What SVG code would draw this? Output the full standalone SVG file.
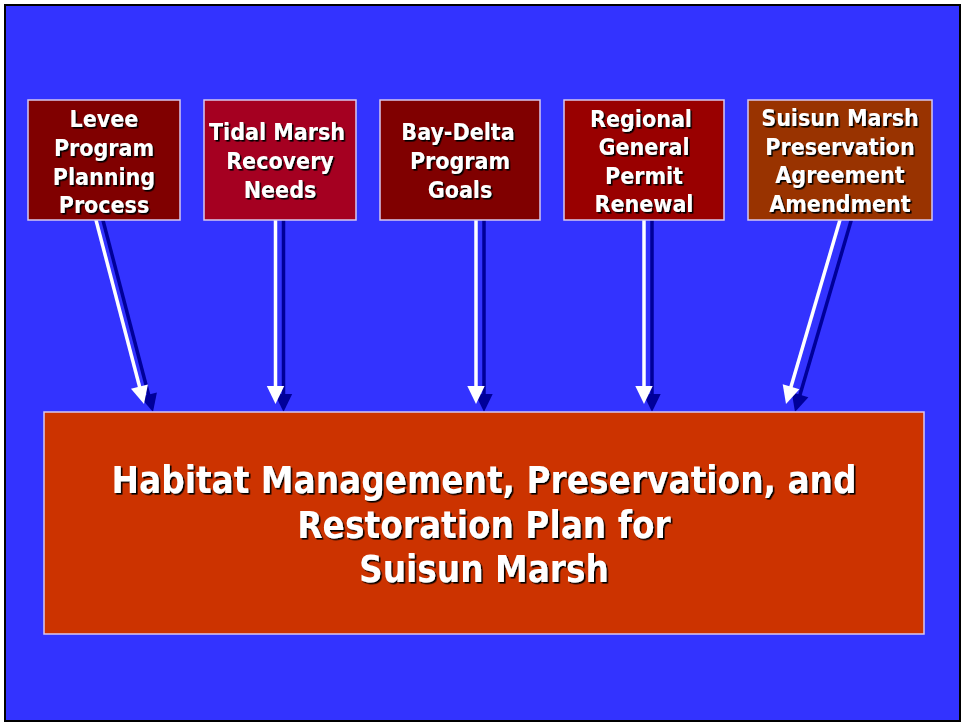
<svg xmlns="http://www.w3.org/2000/svg" xmlns:xlink="http://www.w3.org/1999/xlink" width="963" height="722" viewBox="0 0 963 722">
<style>
.box{stroke:#d8c8f0;stroke-width:1.5}
.t{font-family:"DejaVu Sans Condensed","DejaVu Sans",Verdana,sans-serif;font-weight:bold;fill:#ffffff;text-anchor:middle;filter:url(#ds)}
.s{font-size:23px}
.m{font-size:36.5px}
.wh{fill:#ffffff;stroke:#ffffff}
.sh{fill:#000099;stroke:#000099}
</style>
<defs>
<filter id="ds" x="-5%" y="-10%" width="110%" height="130%">
<feDropShadow dx="1.6" dy="1.6" stdDeviation="0" flood-color="#000000" flood-opacity="1"/>
</filter>
<g id="a1"><line x1="93.9" y1="212" x2="140.3" y2="389.5" stroke-width="3.5"/><polygon points="144,404 147.9,384.4 131,388.8" stroke="none"/></g>
<g id="a2"><line x1="275.5" y1="212" x2="275.5" y2="390" stroke-width="3.5"/><polygon points="275.5,404 284.2,386 266.8,386" stroke="none"/></g>
<g id="a3"><line x1="476" y1="212" x2="476" y2="390" stroke-width="3.5"/><polygon points="476,404 484.7,386 467.3,386" stroke="none"/></g>
<g id="a4"><line x1="644" y1="212" x2="644" y2="390" stroke-width="3.5"/><polygon points="644,404 652.7,386 635.3,386" stroke="none"/></g>
<g id="a5"><line x1="842.3" y1="212" x2="790.2" y2="389.5" stroke-width="3.5"/><polygon points="786,404 799.4,389.2 782.7,384.3" stroke="none"/></g>
</defs>
<rect x="0" y="0" width="963" height="722" fill="#ffffff"/>
<rect x="5" y="5" width="955" height="716" fill="#3333ff" stroke="#000000" stroke-width="2"/>
<g id="connectors">
<use xlink:href="#a1" class="sh" transform="translate(9,8)"/>
<use xlink:href="#a2" class="sh" transform="translate(8,8)"/>
<use xlink:href="#a3" class="sh" transform="translate(8,8)"/>
<use xlink:href="#a4" class="sh" transform="translate(8,8)"/>
<use xlink:href="#a5" class="sh" transform="translate(9,8)"/>
<use xlink:href="#a1" class="wh"/>
<use xlink:href="#a2" class="wh"/>
<use xlink:href="#a3" class="wh"/>
<use xlink:href="#a4" class="wh"/>
<use xlink:href="#a5" class="wh"/>
</g>
<g id="levee">
<rect class="box" x="28" y="100" width="152" height="120" fill="#800000"/>
<text class="t s" x="104" y="127">Levee</text>
<text class="t s" x="104" y="156">Program</text>
<text class="t s" x="104" y="184.5">Planning</text>
<text class="t s" x="104" y="213">Process</text>
</g>
<g id="tidal">
<rect class="box" x="204" y="100" width="152" height="120" fill="#a50021"/>
<text class="t s" x="277" y="140">Tidal Marsh</text>
<text class="t s" x="280" y="169">Recovery</text>
<text class="t s" x="280" y="197.5">Needs</text>
</g>
<g id="baydelta">
<rect class="box" x="380" y="100" width="160" height="120" fill="#800000"/>
<text class="t s" x="458" y="140">Bay-Delta</text>
<text class="t s" x="460" y="169">Program</text>
<text class="t s" x="460" y="197.5">Goals</text>
</g>
<g id="regional">
<rect class="box" x="564" y="100" width="160" height="120" fill="#990000"/>
<text class="t s" x="641" y="126.5">Regional</text>
<text class="t s" x="644" y="155">General</text>
<text class="t s" x="644" y="183.5">Permit</text>
<text class="t s" x="644" y="212">Renewal</text>
</g>
<g id="suisun">
<rect class="box" x="748" y="100" width="184" height="120" fill="#993300"/>
<text class="t s" x="840" y="126">Suisun Marsh</text>
<text class="t s" x="840" y="154.5">Preservation</text>
<text class="t s" x="840" y="183">Agreement</text>
<text class="t s" x="840" y="211.5">Amendment</text>
</g>
<g id="plan">
<rect class="box" x="44" y="412" width="880" height="222" fill="#cc3300"/>
<text class="t m" x="484" y="493">Habitat Management, Preservation, and</text>
<text class="t m" x="484" y="538">Restoration Plan for</text>
<text class="t m" x="484" y="582">Suisun Marsh</text>
</g>
</svg>
